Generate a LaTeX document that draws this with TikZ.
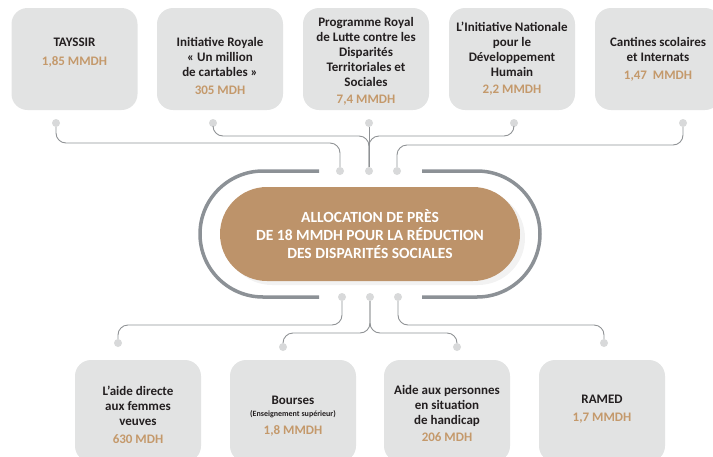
\documentclass[tikz,border=0pt]{standalone}
\usepackage{fontspec}
\setmainfont{Carlito}
\usepackage{tikz}
\usetikzlibrary{positioning,calc,shadows}
\definecolor{boxgray}{HTML}{E2E3E3}
\definecolor{amtbrown}{HTML}{C4996B}
\definecolor{txtdark}{HTML}{231F20}
\definecolor{pillbrown}{HTML}{BD936A}
\definecolor{linegray}{HTML}{8F9295}
\definecolor{ringgray}{HTML}{8C9196}
\definecolor{dotgray}{HTML}{D8D9DA}
\newcommand{\somme}[1]{\textcolor{amtbrown}{#1}}
\begin{document}
\begin{tikzpicture}[x=1pt,y=-1pt,
  box/.style={fill=boxgray,rounded corners=16pt,minimum width=126pt,minimum height=102pt,inner sep=0pt},
  lbl/.style={align=center,inner sep=0pt,text=txtdark,font=\bfseries\fontsize{13}{15}\selectfont},
  dot/.style={circle,fill=dotgray,inner sep=0pt,minimum size=8pt},
  conn/.style={draw=linegray,line width=0.9pt,rounded corners=10pt},
  ring/.style={draw=ringgray,line width=3.5pt}]
\useasboundingbox (0,0) rectangle (713,456);
\clip (0,0) rectangle (713,456);
\node[box] (tb1) at (74.5,59) {};
\node[box] (tb2) at (220,59) {};
\node[box] (tb3) at (366,59) {};
\node[box] (tb4) at (512,59) {};
\node[box] (tb5) at (658,59) {};
\node[box] (bb1) at (138,411) {};
\node[box] (bb2) at (293,411) {};
\node[box] (bb3) at (447,411) {};
\node[box] (bb4) at (602,411) {};
\node[lbl,below=29.5pt of tb1.north] {TAYSSIR\\[4pt]\somme{1,85 MMDH}};
\node[lbl,below=29.5pt of tb2.north] {Initiative Royale\\«~Un million\\de cartables~»\\[3pt]\somme{305 MDH}};
\node[lbl,below=9.5pt of tb3.north] {Programme Royal\\de Lutte contre les\\Disparités\\Territoriales et\\Sociales\\[2pt]\somme{7,4 MMDH}};
\node[lbl,below=14.5pt of tb4.north] {L’Initiative Nationale\\pour le\\Développement\\Humain\\[2pt]\somme{2,2 MMDH}};
\node[lbl,below=29.5pt of tb5.north] {Cantines scolaires\\et Internats\\[3pt]\somme{1,47~~MMDH}};
\node[lbl,below=26.5pt of bb1.north] {L’aide directe\\aux femmes\\veuves\\[3pt]\somme{630 MDH}};
\node[lbl,below=36.5pt of bb2.north] {Bourses\\[-3pt]{\fontsize{8}{9}\selectfont(Enseignement supérieur)}\\[3pt]\somme{1,8 MMDH}};
\node[lbl,below=25.5pt of bb3.north] {Aide aux personnes\\en situation\\de handicap\\[2pt]\somme{206 MDH}};
\node[lbl,below=35.5pt of bb4.north] {RAMED\\[3pt]\somme{1,7 MMDH}};
\draw[ring] (319,171) -- (263,171) arc[start angle=90,end angle=270,radius=63pt] -- (319,297);
\draw[ring] (422,171) -- (477,171) arc[start angle=90,end angle=-90,radius=63pt] -- (422,297);
\node[fill=pillbrown,rounded corners=47pt,minimum width=300pt,minimum height=94pt,
  drop shadow={shadow xshift=5pt,shadow yshift=-4pt,fill=black!10},
  align=center,text=white,font=\bfseries\fontsize{15.5}{18}\selectfont] (alloc) at (370,234)
  {ALLOCATION DE PRÈS\\DE 18 MMDH POUR LA RÉDUCTION\\DES DISPARITÉS SOCIALES};
\node[dot] (d1) at (56,123) {};
\node[dot] (d2) at (213,123) {};
\node[dot] (d3) at (369,123) {};
\node[dot] (d4) at (514,123) {};
\node[dot] (d5) at (683,123) {};
\node[dot] (c1) at (340,171) {};
\node[dot] (c2) at (369,171) {};
\node[dot] (c3) at (397,171) {};
\node[dot] (e1) at (342,297) {};
\node[dot] (e2) at (370,297) {};
\node[dot] (e3) at (398,297) {};
\node[dot] (b1) at (118,343) {};
\node[dot] (b2) at (283,347) {};
\node[dot] (b3) at (457,347) {};
\node[dot] (b4) at (604,343) {};
\draw[conn] (d1) |- ($(c1)+(0,-28)$) -- (c1);
\draw[conn] (d2) |- ($(c2)+(0,-35)$) -- (c2);
\draw[conn] (d4) |- ($(c2)+(0,-35)$) -- (c2);
\draw[conn] (d3) -- (c2);
\draw[conn] (d5) |- ($(c3)+(0,-26)$) -- (c3);
\draw[conn] (e1) -- ($(e1)+(0,28)$) -| (b1);
\draw[conn] (e2) -- ($(e2)+(0,36)$) -| (b2);
\draw[conn] (e2) -- ($(e2)+(0,36)$) -| (b3);
\draw[conn] (e3) -- ($(e3)+(0,28)$) -| (b4);
\end{tikzpicture}
\end{document}
